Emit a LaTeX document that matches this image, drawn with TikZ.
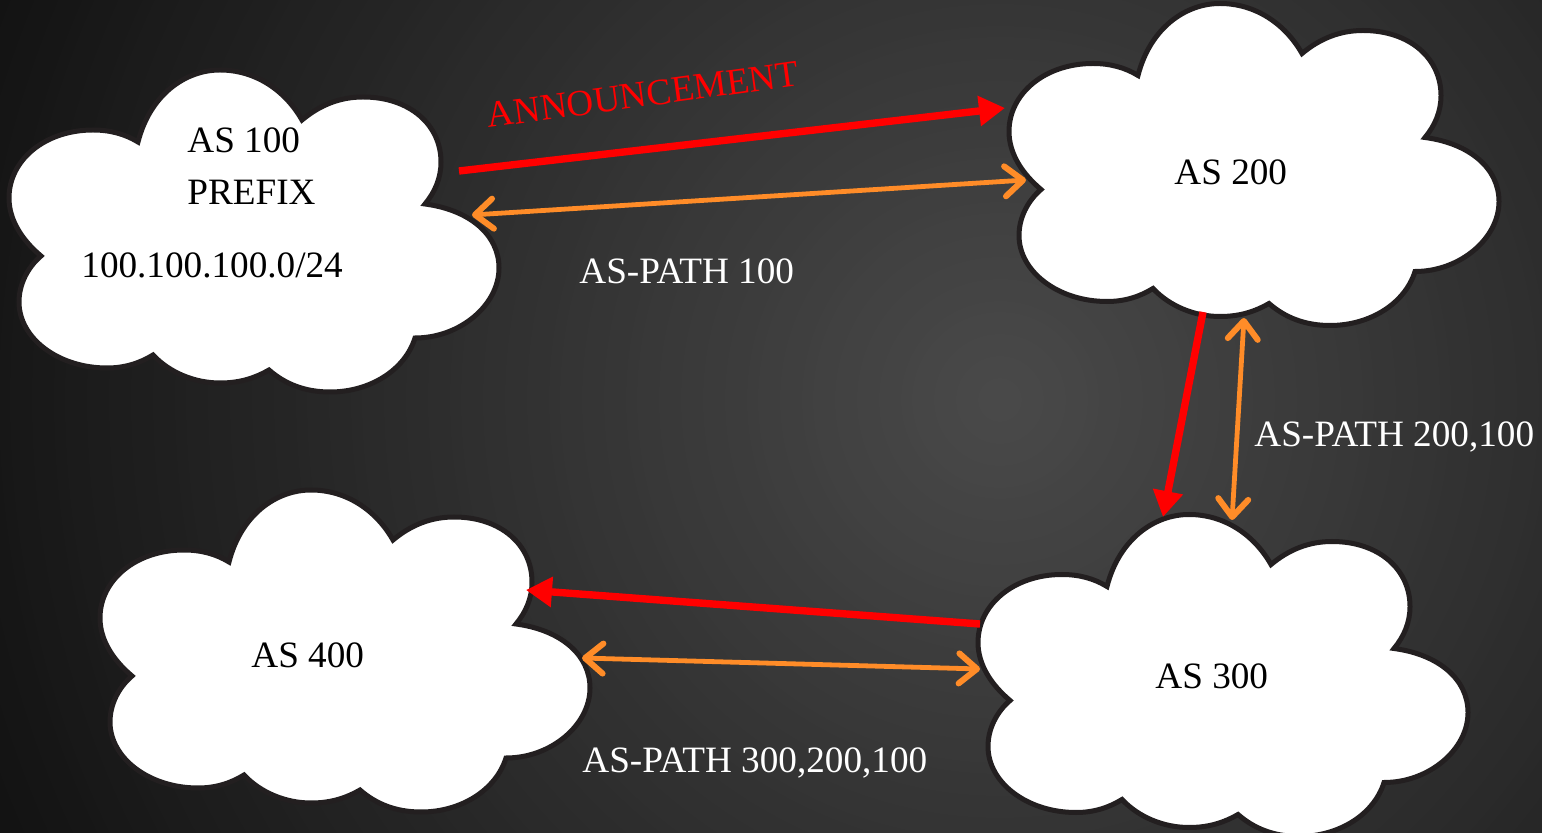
\documentclass[tikz,border=0pt]{standalone}
\usepackage{xcolor}
\usepackage{fontspec}
\setmainfont{Liberation Serif}
\usetikzlibrary{arrows.meta}
\definecolor{bgin}{HTML}{4A4A4A}
\definecolor{bgout}{HTML}{121212}
\definecolor{cloudline}{HTML}{231F20}
\definecolor{pathorange}{HTML}{FF8C28}
\tikzset{
    cloudbox/.style={draw=cloudline,fill=white,line width=2.5pt},
    announce/.style={red,line width=3.7pt,-{Triangle[length=13pt,width=14.5pt]}},
    aspath/.style={pathorange,line width=2.4pt,
        {Straight Barb[length=9pt,width=15pt,line width=3pt,round]}-{Straight Barb[length=9pt,width=15pt,line width=3pt,round]}},
    label/.style={anchor=base west,inner sep=0pt,font=\fontsize{18.6}{22}\selectfont},
}
\newcommand{\cloudpath}{(138,142)
    .. controls (150,95) and (185,70) .. (220,70)
    .. controls (255,70) and (285,90) .. (302,120)
    .. controls (320,105) and (340,97) .. (363,97)
    .. controls (410,97) and (441,125) .. (441,162)
    .. controls (441,178) and (435,192) .. (425,204)
    .. controls (470,210) and (499,235) .. (499,268)
    .. controls (499,305) and (460,338) .. (415,338)
    .. controls (405,370) and (370,392) .. (330,392)
    .. controls (305,392) and (285,384) .. (269,370)
    .. controls (255,378) and (240,383) .. (220,383)
    .. controls (195,383) and (170,373) .. (153,355)
    .. controls (140,363) and (125,368) .. (107,368)
    .. controls (58,368) and (19,338) .. (19,302)
    .. controls (19,285) and (27,268) .. (41,256)
    .. controls (22,240) and (9,220) .. (9,198)
    .. controls (9,160) and (45,130) .. (93,130)
    .. controls (110,130) and (125,134) .. (138,142) -- cycle}
\begin{document}
\begin{tikzpicture}[x=0.5pt,y=-0.5pt]
    \useasboundingbox (0,0) rectangle (1542,833);
    \clip (0,0) rectangle (1542,833);

    % Draw background
    \foreach \r [evaluate=\r as \mix using int(100-\r)] in {100,99,...,1} {
        \fill[bgin!\mix!bgout] (1000,400) circle ({\r*5.5pt});
    }

    % Draw clouds
    \draw[cloudbox] \cloudpath;
    \draw[cloudbox,shift={(1000,-66.5)}] \cloudpath;
    \draw[cloudbox,shift={(91,420)}] \cloudpath;
    \draw[cloudbox,shift={(969,444.5)}] \cloudpath;

    % Connector ends
    \coordinate (as100out) at (459,171);
    \coordinate (as200in) at (1005,108);
    \coordinate (as100path) at (472,215);
    \coordinate (as200path) at (1026,180);
    \coordinate (as200out) at (1203,312);
    \coordinate (as300in) at (1163,517);
    \coordinate (as200down) at (1244,318);
    \coordinate (as300up) at (1232,520);
    \coordinate (as300out) at (980,624);
    \coordinate (as400in) at (526,590);
    \coordinate (as400path) at (582,658);
    \coordinate (as300path) at (980,669);

    % Draw announcement arrows
    \draw[announce] (as100out) -- (as200in);
    \draw[announce] (as200out) -- (as300in);
    \draw[announce] (as300out) -- (as400in);

    % Draw AS-PATH arrows
    \draw[aspath] (as100path) -- (as200path);
    \draw[aspath] (as200down) -- (as300up);
    \draw[aspath] (as400path) -- (as300path);

    % Cloud labels
    \node[label] (as100) at (187,153) {AS 100};
    \node[label] (prefix) at (187,204.5) {PREFIX};
    \node[label] (network) at (81,278) {100.100.100.0/24};
    \node[label] (as200) at (1174,185) {AS 200};
    \node[label] (as300) at (1155,689) {AS 300};
    \node[label] (as400) at (251,668) {AS 400};

    % Arrow labels
    \node[label,red,rotate=7.8] (announcement) at (488.5,128) {ANNOUNCEMENT};
    \node[label,white] (path100) at (579,284) {AS-PATH 100};
    \node[label,white] (path200) at (1254,446.5) {AS-PATH 200,100};
    \node[label,white] (path300) at (582,772) {AS-PATH 300,200,100};
\end{tikzpicture}
\end{document}
